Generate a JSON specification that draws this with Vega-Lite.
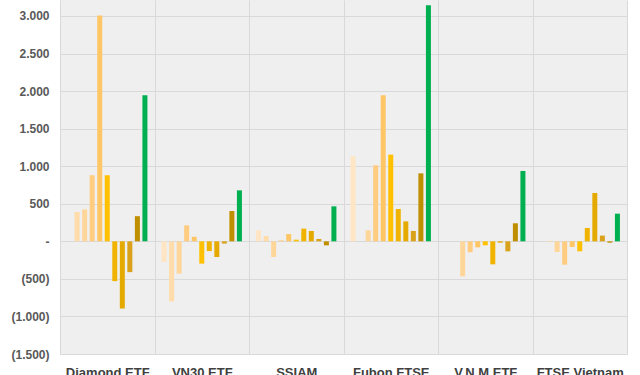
{
  "$schema": "https://vega.github.io/schema/vega-lite/v6.json",
  "width": 567,
  "height": 354,
  "autosize": "none",
  "padding": {"left": 60, "top": 0, "right": 13, "bottom": 21},
  "background": "#FFFFFF",
  "view": {"fill": "#EFEFEF", "stroke": null},
  "config": {"font": "Liberation Sans"},
  "data": {"values": [
    {"fund": "Diamond ETF", "s": 1, "v": 390},
    {"fund": "Diamond ETF", "s": 2, "v": 425},
    {"fund": "Diamond ETF", "s": 3, "v": 880},
    {"fund": "Diamond ETF", "s": 4, "v": 3005},
    {"fund": "Diamond ETF", "s": 5, "v": 880},
    {"fund": "Diamond ETF", "s": 6, "v": -530},
    {"fund": "Diamond ETF", "s": 7, "v": -895},
    {"fund": "Diamond ETF", "s": 8, "v": -410},
    {"fund": "Diamond ETF", "s": 9, "v": 335},
    {"fund": "Diamond ETF", "s": 10, "v": 1945},
    {"fund": "VN30 ETF", "s": 0, "v": -275},
    {"fund": "VN30 ETF", "s": 1, "v": -800},
    {"fund": "VN30 ETF", "s": 2, "v": -430},
    {"fund": "VN30 ETF", "s": 3, "v": 213},
    {"fund": "VN30 ETF", "s": 4, "v": 60},
    {"fund": "VN30 ETF", "s": 5, "v": -297},
    {"fund": "VN30 ETF", "s": 6, "v": -130},
    {"fund": "VN30 ETF", "s": 7, "v": -209},
    {"fund": "VN30 ETF", "s": 8, "v": -30},
    {"fund": "VN30 ETF", "s": 9, "v": 404},
    {"fund": "VN30 ETF", "s": 10, "v": 679},
    {"fund": "SSIAM", "s": 0, "v": 146},
    {"fund": "SSIAM", "s": 1, "v": 71},
    {"fund": "SSIAM", "s": 2, "v": -209},
    {"fund": "SSIAM", "s": 3, "v": 13},
    {"fund": "SSIAM", "s": 4, "v": 98},
    {"fund": "SSIAM", "s": 5, "v": 22},
    {"fund": "SSIAM", "s": 6, "v": 169},
    {"fund": "SSIAM", "s": 7, "v": 138},
    {"fund": "SSIAM", "s": 8, "v": 31},
    {"fund": "SSIAM", "s": 9, "v": -53},
    {"fund": "SSIAM", "s": 10, "v": 466},
    {"fund": "Fubon FTSE", "s": 0, "v": 1132},
    {"fund": "Fubon FTSE", "s": 2, "v": 146},
    {"fund": "Fubon FTSE", "s": 3, "v": 1012},
    {"fund": "Fubon FTSE", "s": 4, "v": 1944},
    {"fund": "Fubon FTSE", "s": 5, "v": 1154},
    {"fund": "Fubon FTSE", "s": 6, "v": 430},
    {"fund": "Fubon FTSE", "s": 7, "v": 266},
    {"fund": "Fubon FTSE", "s": 8, "v": 138},
    {"fund": "Fubon FTSE", "s": 9, "v": 905},
    {"fund": "Fubon FTSE", "s": 10, "v": 3143},
    {"fund": "V.N.M ETF", "s": 2, "v": -466},
    {"fund": "V.N.M ETF", "s": 3, "v": -146},
    {"fund": "V.N.M ETF", "s": 4, "v": -80},
    {"fund": "V.N.M ETF", "s": 5, "v": -53},
    {"fund": "V.N.M ETF", "s": 6, "v": -306},
    {"fund": "V.N.M ETF", "s": 7, "v": -18},
    {"fund": "V.N.M ETF", "s": 8, "v": -133},
    {"fund": "V.N.M ETF", "s": 9, "v": 240},
    {"fund": "V.N.M ETF", "s": 10, "v": 937},
    {"fund": "FTSE Vietnam", "s": 1, "v": -10},
    {"fund": "FTSE Vietnam", "s": 2, "v": -142},
    {"fund": "FTSE Vietnam", "s": 3, "v": -311},
    {"fund": "FTSE Vietnam", "s": 4, "v": -76},
    {"fund": "FTSE Vietnam", "s": 5, "v": -133},
    {"fund": "FTSE Vietnam", "s": 6, "v": 178},
    {"fund": "FTSE Vietnam", "s": 7, "v": 644},
    {"fund": "FTSE Vietnam", "s": 8, "v": 76},
    {"fund": "FTSE Vietnam", "s": 9, "v": -18},
    {"fund": "FTSE Vietnam", "s": 10, "v": 368}
  ]},
  "mark": {"type": "bar"},
  "encoding": {
    "x": {
      "field": "fund", "type": "nominal",
      "sort": ["Diamond ETF", "VN30 ETF", "SSIAM", "Fubon FTSE", "V.N.M ETF", "FTSE Vietnam"],
      "scale": {"paddingInner": 0, "paddingOuter": 0},
      "axis": {
        "title": null, "labelAngle": 0, "domain": false, "ticks": false,
        "grid": true, "tickBand": "extent", "gridColor": "#D9D9D9", "gridWidth": 1,
        "labelFont": "Liberation Sans", "labelFontSize": 13, "labelFontWeight": "bold",
        "labelColor": "#404040", "labelPadding": 12
      }
    },
    "xOffset": {
      "field": "s", "type": "ordinal",
      "scale": {"paddingInner": 0.336, "paddingOuter": 0.94}
    },
    "y": {
      "field": "v", "type": "quantitative",
      "scale": {"domain": [-1500, 3213], "nice": false, "zero": false},
      "axis": {
        "title": null, "values": [-1500, -1000, -500, 0, 500, 1000, 1500, 2000, 2500, 3000],
        "domain": false, "ticks": false, "grid": true, "gridColor": "#D9D9D9",
        "labelFont": "Liberation Sans", "labelFontSize": 12, "labelFontWeight": "bold",
        "labelColor": "#595959", "labelPadding": 11,
        "labelExpr": "datum.value == 0 ? '-' : (datum.value < 0 ? '(' + replace(format(-datum.value, ','), ',', '.') + ')' : replace(format(datum.value, ','), ',', '.'))"
      }
    },
    "color": {
      "field": "s", "type": "ordinal", "legend": null,
      "scale": {
        "domain": [0, 1, 2, 3, 4, 5, 6, 7, 8, 9, 10],
        "range": ["#FFE5C4", "#FFDCAA", "#FFD699", "#FFCC80", "#FFC666", "#FFC000", "#F0B400", "#E5AA00", "#D9A21A", "#BF8F00", "#00B050"]
      }
    }
  }
}
